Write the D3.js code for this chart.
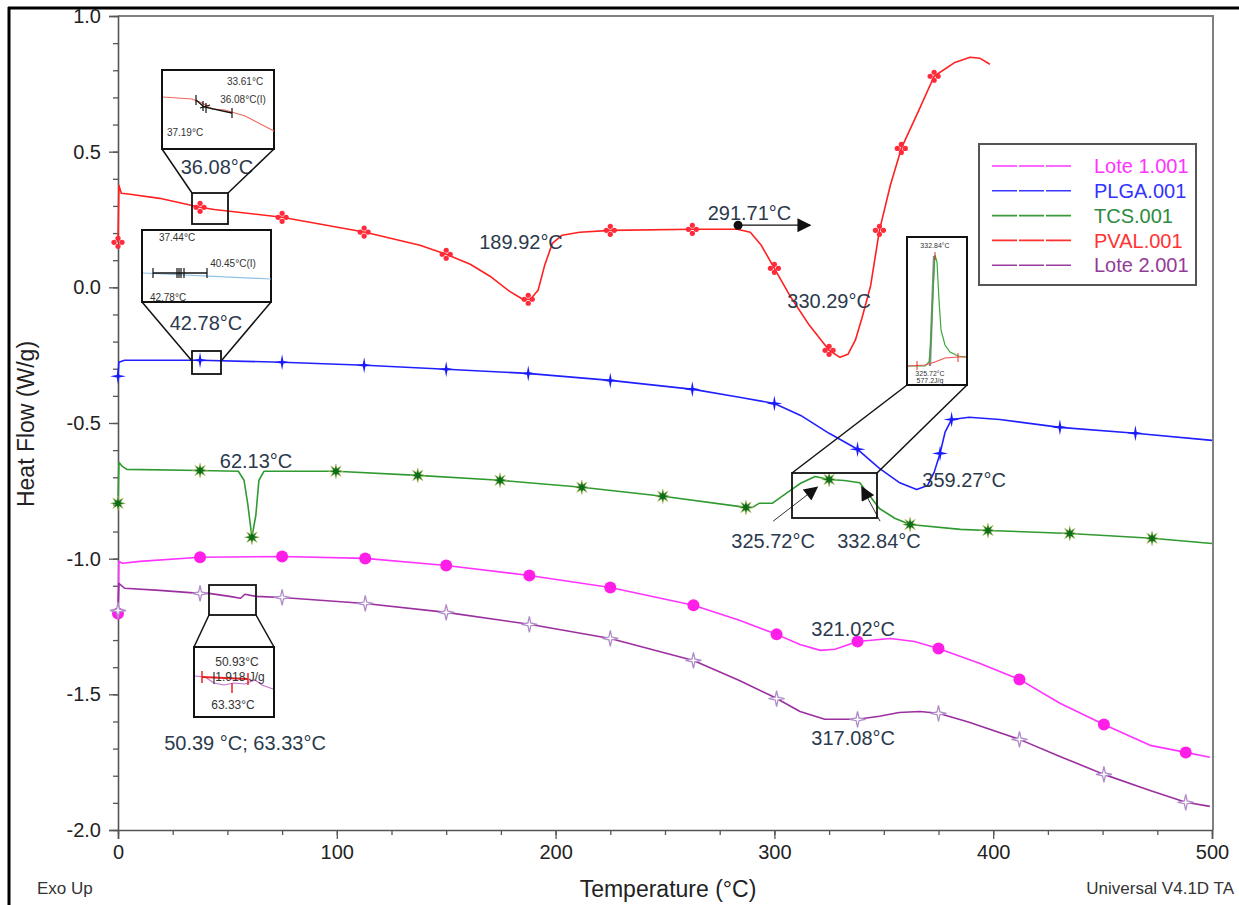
<!DOCTYPE html>
<html>
<head>
<meta charset="utf-8">
<script src="https://cdn.jsdelivr.net/npm/d3@7"></script>
<style>
  body { margin: 0; background: #fff; }
  svg { display: block; font-family: "Liberation Sans", Arial, sans-serif; }
</style>
</head>
<body>
<div id="vis"></div>
<script>
// values
// each series is [temperature (°C), heat flow (W/g)]
let pval = [[0, 0.166], [0.4, 0.376], [1.5, 0.347], [5.5, 0.343], [19, 0.328], [37.5, 0.295], [44, 0.287],
  [75, 0.258], [113, 0.203], [138, 0.155], [150, 0.122], [161, 0.085], [170, 0.041], [179, -0.015],
  [185, -0.044], [188.5, -0.044], [192, -0.011], [195, 0.081], [198.5, 0.162], [203, 0.192], [211, 0.203],
  [225, 0.21], [263, 0.214], [283, 0.214], [289, 0.203], [294, 0.155], [300, 0.07], [307, -0.03],
  [316, -0.14], [325, -0.232], [330, -0.258], [333.6, -0.247], [337, -0.195], [340, -0.114], [344, 0.007],
  [348, 0.21], [353, 0.376], [358, 0.512], [366, 0.652], [373, 0.778], [382.5, 0.829], [389.4, 0.848],
  [394, 0.844], [398.5, 0.822]];

let plga = [[0, -0.328], [0.4, -0.276], [3, -0.269], [37.5, -0.269], [75, -0.276], [113, -0.287],
  [150, -0.302], [187, -0.317], [225, -0.343], [263, -0.376], [284, -0.405], [300, -0.428], [312, -0.472],
  [325, -0.538], [338, -0.597], [348, -0.667], [357, -0.719], [365, -0.745], [370, -0.73], [373, -0.682],
  [375.7, -0.612], [378, -0.534], [381, -0.487], [389, -0.479], [403, -0.487], [430.5, -0.516],
  [465, -0.538], [500, -0.564]];

let tcs = [[0, -0.796], [0.4, -0.645], [2, -0.66], [4, -0.671], [37.5, -0.675], [55, -0.678], [57.6, -0.711],
  [59.4, -0.804], [61.2, -0.921], [63, -0.84], [64.4, -0.711], [66.7, -0.678], [99.6, -0.678], [137, -0.693],
  [174.6, -0.711], [212, -0.737], [249, -0.77], [287, -0.811], [290, -0.811], [293, -0.796], [299, -0.796],
  [306, -0.756], [312, -0.722], [318.6, -0.697], [325, -0.708], [332, -0.712], [339, -0.72], [343.7, -0.77],
  [348, -0.815], [355, -0.851], [362, -0.874], [385, -0.892], [397.6, -0.896], [435, -0.907],
  [472.6, -0.925], [500, -0.944]];

let lote1 = [[0, -1.202], [0.4, -1.01], [2, -1.017], [10, -1.01], [37.5, -0.995], [75, -0.992], [113, -0.999],
  [150, -1.025], [188, -1.062], [225, -1.106], [263, -1.172], [284, -1.227], [301, -1.279], [311.7, -1.316],
  [321, -1.338], [327.7, -1.334], [338, -1.305], [353, -1.294], [364, -1.305], [375, -1.331], [394, -1.386],
  [412, -1.445], [430.5, -1.533], [450.6, -1.611], [471.7, -1.688], [488, -1.714], [499, -1.732]];

let lote2 = [[0, -1.191], [0.4, -1.091], [3, -1.109], [19, -1.117], [37.5, -1.128], [41.6, -1.128],
  [51, -1.139], [56, -1.146], [58, -1.131], [63, -1.139], [75, -1.143], [113, -1.165], [150, -1.198],
  [188, -1.242], [225, -1.294], [263, -1.375], [284, -1.449], [300, -1.511], [311.7, -1.563], [323, -1.592],
  [338, -1.592], [348, -1.581], [357, -1.567], [366.5, -1.563], [375, -1.57], [389, -1.603], [412, -1.666],
  [430.5, -1.729], [444, -1.773], [450.6, -1.795], [471.7, -1.854], [488, -1.898], [499, -1.913]];

// temperatures where the instrument drew its symbols
let pvalMarks = [0, 37.5, 75, 112.5, 150, 187.5, 225, 262.5, 300, 325, 348, 358, 373];
let plgaMarks = [0, 37.5, 75, 112.5, 150, 187.5, 225, 262.5, 300, 338, 375.7, 381, 430.5, 465];
let tcsMarks = [0, 37.5, 61.2, 99.6, 137, 174.6, 212, 249, 287, 325, 362, 397.6, 435, 472.6];
let loteMarks = [0, 37.5, 75, 113, 150, 188, 225, 263, 301, 338, 375, 412, 450.6, 488];

let tempTicks = [0, 100, 200, 300, 400, 500];
let heatTicks = [1.0, 0.5, 0.0, -0.5, -1.0, -1.5, -2.0];
let legendNames = ['Lote 1.001', 'PLGA.001', 'TCS.001', 'PVAL.001', 'Lote 2.001'];

let width = 1239;
let height = 905;
let textColor = '#2b3a4c';

let svg = d3.select('#vis').append('svg')
  .attr('width', width)
  .attr('height', height);

let x = d3.scaleLinear().domain([0, 500]).range([118, 1212]);
let y = d3.scaleLinear().domain([-2, 1]).range([830, 16]);

// arrow heads
let defs = svg.append('defs');
defs.append('marker')
  .attr('id', 'arrowBig')
  .attr('viewBox', '0 0 10 10')
  .attr('refX', 9).attr('refY', 5)
  .attr('markerWidth', 16).attr('markerHeight', 14)
  .attr('markerUnits', 'userSpaceOnUse')
  .attr('orient', 'auto')
  .append('path')
  .attr('d', 'M0,0 L10,5 L0,10 Z')
  .attr('fill', '#111');

// outer screenshot frame (top and left only)
svg.append('line').attr('x1', 8).attr('y1', 8).attr('x2', width).attr('y2', 8)
  .attr('stroke', '#000').attr('stroke-width', 3);
svg.append('line').attr('x1', 9).attr('y1', 7).attr('x2', 9).attr('y2', height)
  .attr('stroke', '#000').attr('stroke-width', 3);

// plot frame top and right
svg.append('path')
  .attr('d', 'M' + x(0) + ',' + y(1) + 'H' + (x(500) + 1) + 'V' + y(-2))
  .attr('fill', 'none')
  .attr('stroke', '#808080')
  .attr('stroke-width', 2);

// minor ticks
let minorY = d3.range(-2, 1.001, 0.1);
let minorX = d3.range(0, 500.1, 25);
svg.append('g')
  .attr('transform', 'translate(' + x(0) + ',0)')
  .call(d3.axisLeft(y).tickValues(minorY).tickSize(5).tickFormat(''))
  .call(g => g.select('.domain').remove())
  .selectAll('line').attr('stroke', '#555').attr('stroke-width', 1.3);
svg.append('g')
  .attr('transform', 'translate(0,' + y(-2) + ')')
  .call(d3.axisBottom(x).tickValues(minorX).tickSize(5).tickFormat(''))
  .call(g => g.select('.domain').remove())
  .selectAll('line').attr('stroke', '#555').attr('stroke-width', 1.3);

// major axes
let yAxis = svg.append('g')
  .attr('transform', 'translate(' + x(0) + ',0)')
  .call(d3.axisLeft(y).tickValues(heatTicks).tickSize(9).tickPadding(8)
    .tickFormat(d => d.toFixed(1)));
let xAxis = svg.append('g')
  .attr('transform', 'translate(0,' + y(-2) + ')')
  .call(d3.axisBottom(x).tickValues(tempTicks).tickSize(9).tickPadding(6)
    .tickFormat(d3.format('d')));
[yAxis, xAxis].forEach(function (a) {
  a.select('.domain').attr('stroke', '#555').attr('stroke-width', 1.6);
  a.selectAll('line').attr('stroke', '#555').attr('stroke-width', 1.3);
  a.selectAll('text')
    .attr('fill', '#222')
    .style('font-size', '20px')
    .style('font-family', '"Liberation Sans", Arial, sans-serif');
});

// axis titles and corner notes
svg.append('text')
  .attr('transform', 'translate(34,' + 424 + ') rotate(-90)')
  .attr('text-anchor', 'middle')
  .attr('fill', '#222')
  .style('font-size', '23px')
  .text('Heat Flow (W/g)');
svg.append('text')
  .attr('x', 668).attr('y', 897)
  .attr('text-anchor', 'middle')
  .attr('fill', '#222')
  .style('font-size', '23px')
  .text('Temperature (°C)');
svg.append('text')
  .attr('x', 37).attr('y', 894)
  .attr('fill', '#333')
  .style('font-size', '17px')
  .text('Exo Up');
svg.append('text')
  .attr('x', 1234).attr('y', 894)
  .attr('text-anchor', 'end')
  .attr('fill', '#333')
  .style('font-size', '17px')
  .text('Universal V4.1D TA');

// curves
let series = [
  { data: lote1, marks: loteMarks, color: '#ff33ff', kind: 'circle' },
  { data: lote2, marks: loteMarks, color: '#9b2f9f', kind: 'sparkleOpen' },
  { data: tcs, marks: tcsMarks, color: '#2f9a2f', kind: 'star8' },
  { data: plga, marks: plgaMarks, color: '#2020ff', kind: 'sparkle' },
  { data: pval, marks: pvalMarks, color: '#ff2020', kind: 'dots' }
];

let line = d3.line()
  .x(d => x(d[0]))
  .y(d => y(d[1]));

let bisect = d3.bisector(d => d[0]).left;
function heatAt(data, t) {
  let i = bisect(data, t);
  if (i <= 0) return data[0][1];
  if (i >= data.length) return data[data.length - 1][1];
  let a = data[i - 1], b = data[i];
  return a[1] + (b[1] - a[1]) * (t - a[0]) / (b[0] - a[0]);
}

function starPath(n, ro, ri) {
  let pts = [];
  for (let k = 0; k < 2 * n; k++) {
    let r = k % 2 ? ri : ro;
    let a = k * Math.PI / n - Math.PI / 2;
    pts.push([r * Math.cos(a), r * Math.sin(a)]);
  }
  return 'M' + pts.map(p => p[0].toFixed(2) + ',' + p[1].toFixed(2)).join('L') + 'Z';
}

let plot = svg.append('g');
series.forEach(function (s) {
  plot.append('path')
    .attr('d', line(s.data))
    .attr('fill', 'none')
    .attr('stroke', s.color)
    .attr('stroke-width', 1.6)
    .attr('stroke-linejoin', 'round');
});

series.forEach(function (s) {
  let g = plot.append('g');
  let mk = g.selectAll('g')
    .data(s.marks)
    .join('g')
    .attr('transform', t => 'translate(' + x(t) + ',' + y(heatAt(s.data, t)) + ')');
  if (s.kind === 'circle') {
    mk.append('circle').attr('r', 6).attr('fill', '#ff1ee8');
  } else if (s.kind === 'dots') {
    [[-4, 0], [4, 0], [0, -4], [0, 4]].forEach(function (o) {
      mk.append('circle').attr('cx', o[0]).attr('cy', o[1]).attr('r', 2.6).attr('fill', '#ff2a3a');
    });
  } else if (s.kind === 'sparkle') {
    mk.append('path').attr('d', starPath(4, 8, 1.8)).attr('fill', '#1a1aff');
  } else if (s.kind === 'star8') {
    mk.append('path').attr('d', starPath(8, 7.5, 3)).attr('fill', '#0b6e1b')
      .attr('stroke', '#c8c86a').attr('stroke-width', 0.5);
  } else {
    mk.append('path').attr('d', starPath(4, 8, 2)).attr('fill', '#fff')
      .attr('stroke', '#b08cc8').attr('stroke-width', 1.3);
  }
});

// legend
let legend = svg.append('g');
legend.append('rect')
  .attr('x', 979).attr('y', 144)
  .attr('width', 217).attr('height', 141)
  .attr('fill', '#fff')
  .attr('stroke', '#555')
  .attr('stroke-width', 2);
let legendColors = ['#ff33ff', '#3838ff', '#3a9a3a', '#ff3030', '#9b3a9f'];
let legendText = ['#ff33ff', '#3333ff', '#2d8a3e', '#ff3333', '#933b99'];
legendNames.forEach(function (n, i) {
  let ly = 166 + i * 24.8;
  legend.append('line')
    .attr('x1', 992).attr('x2', 1071)
    .attr('y1', ly).attr('y2', ly)
    .attr('stroke', legendColors[i])
    .attr('stroke-width', 1.6)
    .attr('stroke-dasharray', '25,2');
  legend.append('text')
    .attr('x', 1094).attr('y', ly)
    .attr('dy', '0.36em')
    .attr('fill', legendText[i])
    .style('font-size', '20px')
    .text(n);
});

// annotations (positions in temperature / heat flow)
let notes = svg.append('g')
  .attr('fill', textColor)
  .style('font-size', '20px')
  .attr('text-anchor', 'middle');
function note(label, t, v) {
  notes.append('text').attr('x', x(t)).attr('y', y(v)).attr('dy', '0.36em').text(label);
}
note('189.92°C', 184.2, 0.166);
note('291.71°C', 288.6, 0.276);
note('330.29°C', 325, -0.048);
note('62.13°C', 63.1, -0.638);
note('359.27°C', 386.7, -0.711);
note('325.72°C', 299.4, -0.933);
note('332.84°C', 347.8, -0.933);
note('321.02°C', 336, -1.257);
note('317.08°C', 336, -1.659);

svg.append('line')
  .attr('x1', x(283.4)).attr('y1', y(0.229))
  .attr('x2', x(316.3)).attr('y2', y(0.229))
  .attr('stroke', '#111').attr('stroke-width', 1.3)
  .attr('marker-end', 'url(#arrowBig)');
svg.append('circle')
  .attr('cx', x(283.4)).attr('cy', y(0.229)).attr('r', 4.5).attr('fill', '#111');
svg.append('line')
  .attr('x1', x(299.4)).attr('y1', y(-0.862))
  .attr('x2', x(319.5)).attr('y2', y(-0.737))
  .attr('stroke', '#333').attr('stroke-width', 1)
  .attr('marker-end', 'url(#arrowBig)');
svg.append('line')
  .attr('x1', x(348.3)).attr('y1', y(-0.862))
  .attr('x2', x(340)).attr('y2', y(-0.737))
  .attr('stroke', '#333').attr('stroke-width', 1)
  .attr('marker-end', 'url(#arrowBig)');

// zoom insets (drawn in page pixels)
function inset(box, zoomBox, ends) {
  let g = svg.append('g');
  g.append('line').attr('x1', ends[0][0]).attr('y1', ends[0][1]).attr('x2', ends[1][0]).attr('y2', ends[1][1])
    .attr('stroke', '#111').attr('stroke-width', 1.5);
  g.append('line').attr('x1', ends[2][0]).attr('y1', ends[2][1]).attr('x2', ends[3][0]).attr('y2', ends[3][1])
    .attr('stroke', '#111').attr('stroke-width', 1.5);
  g.append('rect').attr('x', zoomBox[0]).attr('y', zoomBox[1])
    .attr('width', zoomBox[2] - zoomBox[0]).attr('height', zoomBox[3] - zoomBox[1])
    .attr('fill', 'none').attr('stroke', '#111').attr('stroke-width', 1.8);
  g.append('rect').attr('x', box[0]).attr('y', box[1])
    .attr('width', box[2] - box[0]).attr('height', box[3] - box[1])
    .attr('fill', '#fff').attr('stroke', '#111').attr('stroke-width', 2);
  return g;
}
function poly(g, pts, color, w) {
  g.append('path').attr('d', d3.line()(pts)).attr('fill', 'none')
    .attr('stroke', color).attr('stroke-width', w);
}
function small(g, label, px, py, size) {
  g.append('text').attr('x', px).attr('y', py).attr('dy', '0.36em')
    .attr('text-anchor', 'middle').attr('fill', '#333')
    .style('font-size', size + 'px').text(label);
}

// PVAL inset
let i1 = inset([162, 70, 274, 149], [192, 193, 228, 224],
  [[162, 149], [192, 193], [274, 149], [228, 193]]);
poly(i1, [[163, 97], [192, 99], [202, 103], [212, 109], [225, 110], [245, 116], [274, 131]], '#f06a5a', 1.2);
poly(i1, [[196, 100], [204, 107], [232, 113]], '#111', 1.3);
[[196, 100], [203, 106], [206, 108], [232, 113]].forEach(p => poly(i1, [[p[0], p[1] - 5], [p[0], p[1] + 5]], '#111', 1.2));
poly(i1, [[200, 108], [210, 105]], '#111', 1.1);
small(i1, '33.61°C', 245, 81, 10);
small(i1, '36.08°C(I)', 243, 99, 10);
small(i1, '37.19°C', 185, 132, 10);
notes.append('text').attr('x', 217).attr('y', 167).attr('dy', '0.36em').text('36.08°C');

// PLGA inset
let i2 = inset([142, 230, 271, 302], [192, 351, 221, 374],
  [[142, 302], [192, 361], [271, 302], [222, 360]]);
poly(i2, [[143, 273], [271, 279]], '#8cc0e6', 1.2);
poly(i2, [[153, 273], [207, 273]], '#111', 1.3);
[153, 177, 179, 181, 184, 207].forEach(px => poly(i2, [[px, 268], [px, 278]], '#111', 1.2));
small(i2, '37.44°C', 177, 237, 10);
small(i2, '40.45°C(I)', 233, 263, 10);
small(i2, '42.78°C', 168, 297, 10);
notes.append('text').attr('x', 206).attr('y', 323).attr('dy', '0.36em').text('42.78°C');

// TCS inset
let i3 = inset([907, 237, 967, 385], [792, 473, 877, 518],
  [[907, 385], [792, 473], [967, 385], [877, 473]]);
poly(i3, [[930, 366], [934, 256]], '#888', 2.2);
poly(i3, [[908, 366], [925, 366], [929, 362], [931, 340], [933, 290], [935, 255], [937, 262],
  [939, 300], [941, 330], [945, 345], [950, 352], [958, 356], [966, 357]], '#3aa83a', 1.2);
poly(i3, [[908, 366], [925, 365], [935, 362], [945, 358], [958, 357], [966, 357]], '#f05050', 1.1);
poly(i3, [[917, 361], [917, 370]], '#e03030', 1);
poly(i3, [[958, 353], [958, 362]], '#e03030', 1);
poly(i3, [[935, 252], [935, 260]], '#e03030', 1);
small(i3, '332.84°C', 935, 245, 7);
small(i3, '325.72°C', 930, 373, 7);
small(i3, '577.2J/g', 930, 380, 7);

// Lote 2 inset
let i4 = inset([194, 647, 274, 717], [209, 585, 256, 615],
  [[194, 647], [209, 615], [274, 647], [256, 615]]);
poly(i4, [[195, 676], [205, 677], [214, 683], [224, 685], [234, 683], [245, 684], [255, 680], [262, 685], [273, 689]], '#c070d0', 1.2);
poly(i4, [[202, 677], [248, 679]], '#ee2020', 2);
[[202, 677], [248, 679]].forEach(p => poly(i4, [[p[0], p[1] - 6], [p[0], p[1] + 6]], '#ee2020', 1.5));
poly(i4, [[232, 683], [232, 693]], '#ee2020', 1.5);
poly(i4, [[214, 672], [214, 684]], '#333', 1.2);
small(i4, '50.93°C', 237, 662, 12);
small(i4, '1.918 J/g', 240, 677, 12);
small(i4, '63.33°C', 233, 705, 12);
notes.append('text').attr('x', 245).attr('y', 743).attr('dy', '0.36em').text('50.39 °C; 63.33°C');
</script>
</body>
</html>
